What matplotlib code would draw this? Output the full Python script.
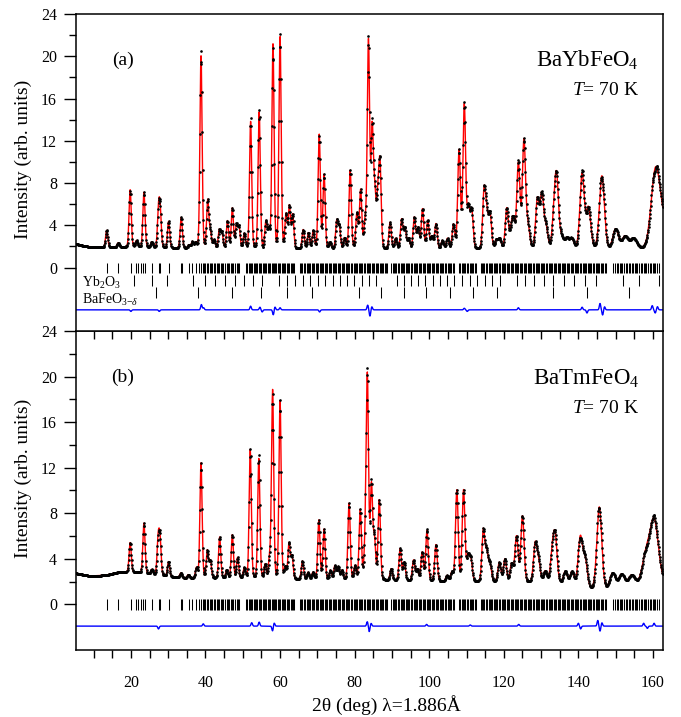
import numpy as np
import matplotlib
matplotlib.use("Agg")
import matplotlib.pyplot as plt

plt.rcParams['font.family'] = 'Liberation Serif'
plt.rcParams['mathtext.fontset'] = 'custom'
plt.rcParams['mathtext.rm'] = 'Liberation Serif'
plt.rcParams['mathtext.it'] = 'Liberation Serif:italic'
plt.rcParams['mathtext.bf'] = 'Liberation Serif:bold'

# ---- BaYbFeO4 (panel a) ----
peak_pos_a = [13.5, 16.6, 19.8, 21.5, 23.5, 25.6, 27.4, 27.85, 30.1, 33.5, 35.6, 36.5, 37.4,
              38.8, 40.6, 41.3, 42.3, 43.7, 44.4, 45.9, 47.2, 48.3, 49.0, 50.4, 52.1, 54.4,
              56.2, 57.0, 58.1, 60.0, 61.6, 62.5, 63.4, 66.2, 67.6, 68.9, 70.5, 71.8, 73.4,
              75.2, 75.9, 77.3, 78.8, 80.6, 81.6, 82.8, 83.7, 84.7, 85.4, 86.2, 86.8, 89.5,
              91.0, 92.6, 93.5, 94.5, 96.0, 97.0, 98.2, 99.6, 100.7, 101.8, 103.5, 104.9,
              106.5, 108.0, 109.4, 110.5, 111.4, 114.7, 115.4, 116.3, 118.0, 118.9, 120.8,
              122.0, 122.6, 123.9, 125.4, 126.5, 129.0, 130.2, 131.3, 133.5, 134.2, 135.5,
              136.9, 138.2, 141.0, 142.7, 146.3, 150.0, 152.5, 154.8, 160.6, 162.4]
peak_amp_a = [1.6, 0.4, 5.4, 0.6, 5.2, 0.5, 3.3, 3.2, 2.5, 2.9, 0.3, 0.6, 0.5,
              18.2, 4.5, 1.5, 0.8, 1.7, 1.5, 2.6, 3.8, 2.2, 2.0, 1.4, 12.0, 12.9,
              2.5, 1.8, 19.3, 20.0, 3.2, 4.0, 3.2, 1.8, 1.5, 1.7, 10.8, 7.0, 0.6,
              2.6, 2.0, 1.0, 7.4, 3.3, 5.5, 2.5, 19.6, 11.2, 5.0, 4.5, 7.8, 2.5,
              1.0, 2.8, 2.0, 1.0, 3.0, 2.0, 3.8, 2.7, 1.2, 2.4, 0.8, 1.0,
              2.3, 9.3, 13.6, 3.8, 3.6, 5.3, 3.0, 3.3, 0.8, 0.9, 3.8,
              1.5, 2.3, 8.0, 10.2, 2.0, 4.6, 5.0, 2.0, 3.0, 6.0, 1.0,
              0.9, 0.9, 7.0, 3.8, 6.9, 1.9, 1.2, 1.0, 6.8, 2.5]
bg_x_a = [5, 8, 12, 20, 30, 40, 60, 80, 100, 120, 140, 150, 162.6]
bg_y_a = [2.25, 2.0, 1.9, 1.95, 1.85, 1.8, 1.75, 1.75, 1.7, 1.75, 1.8, 1.7, 1.75]
res_pos_a = [20.0, 27.6, 38.9, 39.5, 52.1, 54.6, 55.2, 58.2, 58.6, 60.0, 70.6, 83.5, 84.1,
             84.6, 109.4, 110.2, 123.9, 141.0, 142.3, 145.8, 146.5, 147.0, 159.8, 160.6, 161.2]
res_amp_a = [-0.15, -0.15, 0.5, 0.2, 0.35, 0.25, -0.2, -0.5, 0.3, 0.2, -0.2, 0.45, -0.6,
             0.3, 0.15, -0.15, 0.2, 0.25, -0.3, 0.6, -0.5, 0.3, 0.4, -0.3, 0.3]

# ---- BaTmFeO4 (panel b) ----
peak_pos_b = [19.8, 23.5, 25.6, 27.3, 27.8, 30.1, 33.4, 35.4, 37.6, 38.8, 40.5, 41.3, 43.8,
              45.7, 47.2, 48.6, 50.4, 52.0, 54.3, 56.0, 57.2, 58.0, 60.0, 61.4, 62.4, 63.2,
              66.0, 67.5, 68.8, 70.4, 71.8, 73.5, 74.7, 75.6, 76.6, 78.5, 80.1, 81.5, 82.8,
              83.4, 84.5, 85.3, 86.6, 89.8, 92.2, 93.3, 95.8, 96.8, 98.1, 99.4, 101.8, 104.8,
              106.1, 107.4, 109.2, 110.4, 111.2, 114.5, 115.4, 116.3, 118.8, 120.3, 122.1,
              123.4, 125.0, 128.4, 129.3, 131.1, 133.0, 133.8, 136.5, 138.3, 140.5, 141.8,
              145.6, 149.2, 151.6, 154.3, 158.1, 160.3]
peak_amp_b = [2.6, 4.4, 0.4, 3.0, 3.0, 1.3, 0.4, 0.3, 0.9, 10.1, 2.4, 1.5, 3.6,
              0.7, 3.8, 1.8, 0.9, 11.3, 10.5, 1.2, 1.7, 16.5, 15.6, 1.0, 3.1, 2.0,
              1.6, 0.6, 0.6, 5.2, 4.4, 0.8, 1.2, 1.1, 0.8, 6.7, 1.2, 6.1, 2.5,
              17.7, 8.2, 3.5, 7.0, 1.0, 2.8, 1.6, 1.8, 1.0, 2.5, 4.4, 3.2, 0.5,
              0.8, 8.0, 8.0, 2.2, 1.8, 4.5, 2.5, 1.5, 1.7, 2.0, 1.6,
              4.0, 5.8, 3.3, 1.8, 1.0, 2.5, 3.8, 1.1, 1.2, 4.3, 2.5,
              7.2, 1.3, 1.1, 0.9, 2.3, 5.5]
bg_x_b = [5, 9, 13, 17, 22, 30, 35, 45, 65, 90, 105, 120, 135, 143, 148, 157, 162.6]
bg_y_b = [2.75, 2.5, 2.55, 2.85, 2.8, 2.45, 2.3, 2.3, 2.2, 2.1, 2.0, 1.95, 1.85, 1.3, 1.35, 1.75, 1.9]
res_pos_b = [27.4, 39.4, 52.4, 54.4, 58.0, 58.4, 83.4, 83.9, 84.4, 99.3, 111.0, 124.0, 140.0,
             140.6, 145.2, 145.8, 146.3, 157.5, 158.5, 160.3]
res_amp_b = [-0.25, 0.2, 0.3, 0.35, -0.45, 0.3, 0.4, -0.5, 0.25, 0.15, 0.1, 0.15, 0.25,
             -0.25, 0.5, -0.45, 0.3, 0.25, -0.2, 0.25]

# Bragg reflection positions (deg)
refl_main = [13.5, 16.6, 20.0, 21.4, 22.0, 22.6, 23.3, 23.8, 25.6, 27.4, 27.8, 30.2, 33.3, 33.6,
             35.6, 36.5, 37.4, 38.3, 38.8, 39.2, 39.6, 39.9, 40.4, 40.7, 41.1, 41.5, 41.8, 42.3,
             42.6, 43.0, 43.4, 43.7, 44.2, 44.5, 44.8, 45.3, 45.7, 46.0, 46.4, 46.9, 47.2, 47.5,
             48.0, 48.4, 48.7, 49.1,
             50.9, 51.2, 51.6, 51.9, 52.2, 52.6, 52.9, 53.3, 53.6, 53.9, 54.3, 54.6, 55.0, 55.3,
             55.6, 56.0, 56.3, 56.7, 57.0, 57.3, 57.7, 58.0, 58.4, 58.7, 59.0, 59.4, 59.7, 60.1,
             60.4, 60.7, 61.1, 61.4, 61.8, 62.1, 62.4, 62.8, 63.1, 63.5, 63.8,
             65.3, 65.7, 66.0, 66.4, 66.7, 67.1, 67.4, 67.8, 68.1, 68.5, 68.8, 69.2, 69.5, 69.9,
             70.2, 70.6, 70.9, 71.3, 71.6, 72.0, 72.3, 72.7, 73.0, 73.4, 73.7, 74.1, 74.4, 74.8,
             75.1, 75.5, 75.8, 76.2, 76.5, 76.9, 77.2, 77.6, 77.9, 78.3, 78.6, 79.0, 79.3, 79.7,
             80.0, 80.4, 80.7, 81.1, 81.4, 81.8, 82.1, 82.5, 82.8, 83.2, 83.5, 83.9, 84.2, 84.6,
             84.9, 85.3, 85.6, 86.0, 86.3, 86.7, 87.0, 87.4, 87.7, 88.1, 88.4, 88.8,
             89.8, 90.2, 90.5, 90.9, 91.2, 91.6, 91.9, 92.3, 92.6, 93.0, 93.3, 93.7, 94.0, 94.4,
             94.7, 95.1, 95.4, 95.8, 96.1, 96.5, 96.8, 97.2, 97.5, 97.9, 98.2, 98.6, 98.9, 99.3,
             99.6, 100.0, 100.3, 100.7, 101.0, 101.4, 101.7, 102.1, 102.4, 102.8, 103.1, 103.5,
             103.8, 104.2, 104.5, 104.9, 105.2, 105.6, 105.9, 106.3, 106.6,
             108.0, 108.3, 108.7, 109.0, 109.4, 109.7, 110.1, 110.4, 110.8, 111.1, 111.5, 111.8,
             112.2, 112.5,
             113.8, 114.1, 114.5, 114.8, 115.2, 115.5, 115.9, 116.2, 116.6, 116.9, 117.3, 117.6,
             118.0, 118.3, 118.7, 119.0, 119.4, 119.7, 120.1, 120.4, 120.8, 121.1, 121.5, 121.8,
             122.2, 122.5, 122.9, 123.2, 123.6, 123.9, 124.3, 124.6, 125.0, 125.3, 125.7, 126.0,
             126.4, 126.7, 127.1, 127.4, 127.8, 128.1, 128.5, 128.8, 129.2, 129.5, 129.9, 130.2,
             130.6, 130.9, 131.3, 131.6, 132.0, 132.3, 132.7, 133.0, 133.4, 133.7, 134.1, 134.4,
             134.8, 135.1, 135.5, 135.8, 136.2, 136.5, 136.9, 137.2, 137.6, 137.9, 138.3, 138.6,
             139.0, 139.3, 139.7, 140.0, 140.4, 140.7, 141.1, 141.4, 141.8, 142.1, 142.5, 142.8,
             143.2, 143.5, 143.9, 144.2, 144.6, 144.9, 145.3, 145.6, 146.0, 146.3, 146.7, 147.0,
             147.4,
             149.4, 149.8, 150.3, 150.6, 151.1, 151.5, 151.8, 152.3, 152.7, 153.0, 153.5, 153.9,
             154.3, 154.6, 155.1, 155.5, 155.8, 156.3, 156.7, 157.0, 157.5, 157.9, 158.2, 158.7,
             159.1, 159.4, 159.9, 160.3, 160.6, 161.1, 161.5]
refl_yb2o3 = [20.95, 25.7, 29.8, 36.7, 39.75, 42.6, 45.35, 47.95, 50.45, 52.85, 55.2, 59.7, 61.85,
              64.0, 66.1, 68.15, 70.15, 72.15, 74.15, 76.1, 78.05, 79.95, 81.9, 83.8, 85.7, 91.4,
              93.25, 95.15, 97.05, 98.95, 100.9, 102.85, 104.8, 106.75, 108.75, 110.8, 112.8,
              114.85, 116.95, 119.1, 123.5, 125.8, 128.2, 130.7, 133.3, 136.1, 138.9, 141.9,
              144.8, 152.0, 156.3, 161.6]
refl_bafeo3 = [26.6, 38.0, 47.1, 54.8, 61.8, 68.5, 81.1, 87.1, 93.1, 99.1, 105.5, 111.8, 118.3,
               133.3, 142.4, 153.7]

# instrument resolution (Caglioti) and profile mixing
U, V, W = 0.221, -0.15, 0.5
ETA = 0.1
tt = np.arange(5.0, 162.7, 0.1)


def fwhm(pos):
    t = np.tan(np.radians(pos / 2.0))
    return np.sqrt(U * t ** 2 + V * t + W)


def calc_pattern(pos, amp, bg_x, bg_y):
    y = np.interp(tt, bg_x, bg_y)
    for p, a in zip(pos, amp):
        d = (tt - p) / fwhm(p)
        g = np.exp(-4 * np.log(2) * d ** 2)
        lor = 1.0 / (1.0 + 4 * d ** 2)
        y = y + a * ((1 - ETA) * g + ETA * lor)
    return y


def residual(pos, amp):
    r = np.zeros_like(tt)
    for p, a in zip(pos, amp):
        r += a * np.exp(-4 * np.log(2) * ((tt - p) / 0.45) ** 2)
    return r


fig = plt.figure(figsize=(6.81, 7.17), dpi=100)
ax_a = fig.add_axes([0.1112, 0.5384, 0.8619, 0.4421])
ax_b = fig.add_axes([0.1112, 0.0934, 0.8619, 0.4450])
ax_a.set_zorder(3)

panels = [
    (ax_a, peak_pos_a, peak_amp_a, bg_x_a, bg_y_a, res_pos_a, res_amp_a, -4.0, (-6, 24),
     '(a)', r'BaYbFeO$_4$', 0.834, 0.744),
    (ax_b, peak_pos_b, peak_amp_b, bg_x_b, bg_y_b, res_pos_b, res_amp_b, -1.9, (-4, 24),
     '(b)', r'BaTmFeO$_4$', 0.831, 0.742),
]

for ax, pp, pa, bx, by, rp, ra, off, ylim, tag, name, y_name, y_temp in panels:
    ycalc = calc_pattern(np.array(pp), np.array(pa), bx, by)
    res = residual(rp, ra)
    ax.plot(tt, ycalc, color='red', lw=1.0, zorder=2)
    ax.plot(tt, ycalc + res, 'o', ms=1.9, mew=0, color='black', zorder=3)
    ax.plot(tt, off + res, color='blue', lw=1.0, zorder=2)
    ax.set_xlim(5.2, 162.6)
    ax.set_ylim(*ylim)
    ax.set_yticks(range(0, 25, 4))
    ax.set_yticks(range(2, 23, 4), minor=True)
    ax.tick_params(axis='y', which='major', direction='out', length=8.5, width=1.0,
                   labelsize=11.5, pad=5, right=False)
    ax.tick_params(axis='y', which='minor', direction='out', length=5, width=1.0, right=False)
    for s in ax.spines.values():
        s.set_linewidth(1.1)
    ax.text(0.08, 0.855, tag, transform=ax.transAxes, ha='center', va='center', fontsize=14)
    ax.text(0.9597, y_name, name, transform=ax.transAxes, ha='right', va='baseline',
            fontsize=16.5)
    ax.text(0.9597, y_temp, r'$T$= 70 K', transform=ax.transAxes, ha='right',
            va='baseline', fontsize=14)

# reflection markers
ax_a.vlines(refl_main, -0.5, 0.45, color='black', lw=0.75)
ax_a.vlines(refl_yb2o3, -1.7, -0.7, color='black', lw=0.75)
ax_a.vlines(refl_bafeo3, -2.9, -1.85, color='black', lw=0.75)
ax_a.text(6.9, -1.83, r'Yb$_2$O$_3$', fontsize=10, va='baseline')
ax_a.text(6.9, -3.44, r'BaFeO$_{3\mathrm{-}\delta}$', fontsize=10, va='baseline')
ax_b.vlines(refl_main, -0.5, 0.45, color='black', lw=0.75)

# x ticks: panel a only carries unlabeled ticks hanging into panel b
ax_a.set_xticks(np.arange(10, 161, 5))
ax_a.tick_params(axis='x', which='major', direction='out', length=6, width=1.0,
                 top=False, labelbottom=False)
ax_b.set_xticks(np.arange(20, 161, 20))
ax_b.set_xticks(np.arange(10, 161, 5), minor=True)
ax_b.tick_params(axis='x', which='both', direction='out', length=6, width=1.0, top=False)
ax_b.tick_params(axis='x', which='major', labelsize=11.5, pad=12)

fig.text(0.567, 0.0167, '2θ (deg) λ=1.886Å', ha='center', va='center', fontsize=14)
fig.text(0.035, 0.778, 'Intensity (arb. units)', rotation=90, ha='center', va='center', fontsize=14)
fig.text(0.035, 0.333, 'Intensity (arb. units)', rotation=90, ha='center', va='center', fontsize=14)

fig.savefig('out.png', dpi=100)
